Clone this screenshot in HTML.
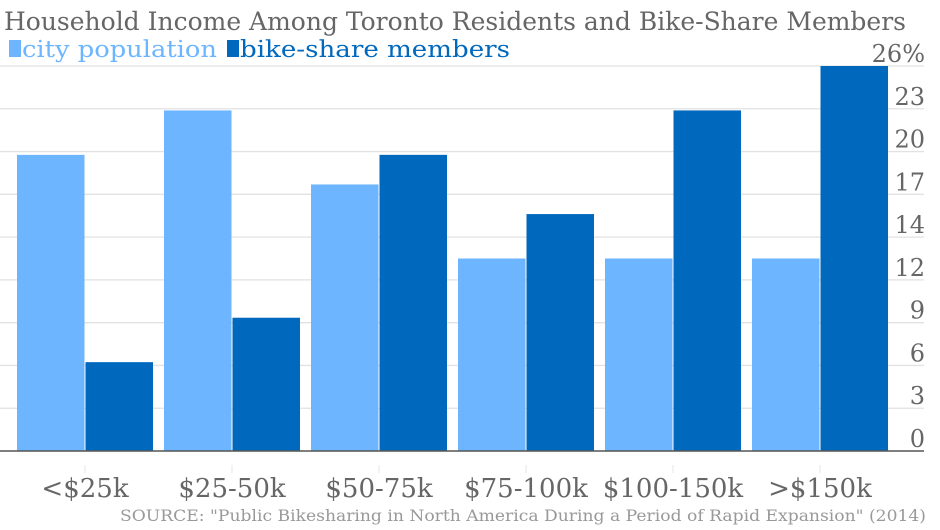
<!DOCTYPE html>
<html><head><meta charset="utf-8"><style>
html,body{margin:0;padding:0;background:#fff;}
svg{display:block;font-family:"DejaVu Serif","Liberation Serif",serif;}
</style></head><body>
<svg id="chart" width="940" height="530" viewBox="0 0 940 530">
<text x="4" y="30" font-size="25" fill="#666" textLength="902" lengthAdjust="spacingAndGlyphs">Household Income Among Toronto Residents and Bike-Share Members</text>
<g>
<rect x="9" y="40" width="12" height="17" fill="#6db6ff"/>
<text x="22" y="57" font-size="23" fill="#6db6ff" textLength="195" lengthAdjust="spacingAndGlyphs">city population</text>
<rect x="227" y="40" width="12" height="17" fill="#0068bd"/>
<text x="240" y="57" font-size="23" fill="#0068bd" textLength="270" lengthAdjust="spacingAndGlyphs">bike-share members</text>
</g>
<g id="grid"></g><g id="bars"></g><g id="axis"></g>
<text x="926" y="521" font-size="16" fill="#999" text-anchor="end" textLength="806" lengthAdjust="spacingAndGlyphs">SOURCE: "Public Bikesharing in North America During a Period of Rapid Expansion" (2014)</text>
</svg>
<script>
const categories=["<$25k","$25-50k","$50-75k","$75-100k","$100-150k",">$150k"];
const cityValues=[20,23,18,13,13,13];
const bikeValues=[6,9,20,16,23,26];
const tickLabels=["0","3","6","9","12","14","17","20","23","26%"];
const yMax=26, y0=451, yTop=66, xStart=11.5, step=147, barW=67.5;
const NS="http://www.w3.org/2000/svg";
function y(v){return y0-(v/yMax)*(y0-yTop);}
function mk(tag,attrs,parent){const e=document.createElementNS(NS,tag);for(const k in attrs)e.setAttribute(k,attrs[k]);parent.appendChild(e);return e;}
const grid=document.getElementById('grid'),bars=document.getElementById('bars'),axis=document.getElementById('axis');
tickLabels.forEach((t,i)=>{
  const v=yMax*i/(tickLabels.length-1);
  const gy=y(v);
  if(i>0){const l=mk('line',{x1:0,x2:924,y1:gy,y2:gy,stroke:'#e2e2e2','stroke-width':1.3},grid);
  
  }
  const tx=mk('text',{x:925,y:gy-4,'font-size':24,fill:'#666','text-anchor':'end'},axis);
  tx.textContent=t;
  
  
});
categories.forEach((c,i)=>{
  const gx=xStart+i*step+5.5;
  const r1=mk('rect',{x:gx,y:y(cityValues[i]),width:barW,height:y0-y(cityValues[i]),fill:'#6db6ff'},bars);
  
  
  const r2=mk('rect',{x:gx+barW+1,y:y(bikeValues[i]),width:barW,height:y0-y(bikeValues[i]),fill:'#0068bd'},bars);
  
  
  const cx=gx+barW+0.5;
  const tk=mk('line',{x1:cx,x2:cx,y1:y0+14,y2:y0+22,stroke:'#e6e6e6','stroke-width':1},axis);
  
  
  const lb=mk('text',{x:cx,y:y0+46,'font-size':26,fill:'#666','text-anchor':'middle'},axis);
  lb.textContent=c;
  
  
});
const base=mk('line',{x1:0,x2:924,y1:y0,y2:y0,stroke:'#555','stroke-width':1.5},axis);


</script>
</body></html>
